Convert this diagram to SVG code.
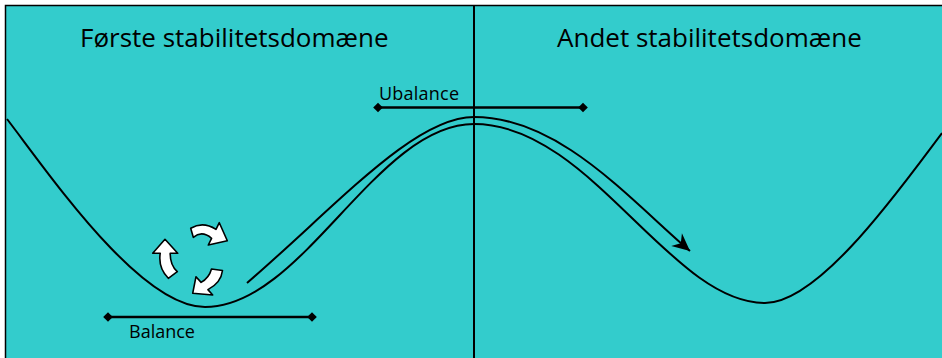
<svg xmlns="http://www.w3.org/2000/svg" width="942" height="358" viewBox="0 0 942 358">
<style>
.t{font-family:"Open Sans","Liberation Sans",sans-serif;fill:#000}
.title{font-size:26px}
.lbl{font-size:18px}
.curve{fill:none;stroke:#000;stroke-width:2}
.bar{fill:none;stroke:#000;stroke-width:2.5}
.dia{fill:#000}
.rot{fill:#fff;stroke:#000;stroke-width:1.6;stroke-linejoin:round}
</style>
<defs>
<marker id="ah" markerUnits="userSpaceOnUse" markerWidth="22" markerHeight="22" viewBox="-18 -10 20 20" refX="0" refY="0" orient="auto">
<path d="M0,0 L-16,-7.5 L-11,0 L-16,7.5 Z" fill="#000"/>
</marker>
<path id="d" d="M-4.8,0 L0,-4.8 L4.8,0 L0,4.8 Z"/>
</defs>
<g id="background">
<rect x="5.5" y="5.5" width="940" height="356" fill="#33CCCC" stroke="#000" stroke-width="1.5"/>
<line x1="474" y1="6" x2="474" y2="358" stroke="#000" stroke-width="2"/>
</g>
<g id="titles">
<text class="t title" x="80" y="47">Første stabilitetsdomæne</text>
<text class="t title" x="557" y="47">Andet stabilitetsdomæne</text>
</g>
<g id="landscape">
<path class="curve" d="M7,119 C50,175 140,307 205,307 C303,307 376,124 474,124 C590,124 670,303 765,303 C820,303 902,186 942,133"/>
</g>
<g id="connectors">
<path id="path-arrow" class="curve" d="M247,283 C337,205.5 414,117 474,117 C560,117 630,200 690,251" marker-end="url(#ah)"/>
</g>
<g id="ubalance">
<line class="bar" x1="378" y1="107.5" x2="583" y2="107.5"/>
<use href="#d" x="378" y="107.5" class="dia"/>
<use href="#d" x="583" y="107.5" class="dia"/>
<text class="t lbl" x="379" y="100" textLength="80">Ubalance</text>
</g>
<g id="balance">
<line class="bar" x1="108" y1="317" x2="312" y2="317"/>
<use href="#d" x="108" y="317" class="dia"/>
<use href="#d" x="312" y="317" class="dia"/>
<text class="t lbl" x="129" y="337.5">Balance</text>
</g>
<g id="rotation">
<path class="rot" d="M190.7,228.3 Q203,221 216,229.4 L219.3,222.7 L227.3,240.7 L208.3,245 L211.6,238.3 Q202,230 193.3,237.3 Z"/>
<path class="rot" d="M165,239.3 L177.7,253.3 L170.2,253.3 Q170,265 177.3,271.7 L168.3,278.3 Q158,268 160.2,253.3 L152.7,253.3 Z"/>
<path class="rot" d="M211.5,269 L222.5,270.5 Q221,283 207.9,289.6 L212.7,295 L192.7,293.3 L196,276.7 L201.1,282.4 Q209,278 211.5,269 Z"/>
</g>
</svg>
